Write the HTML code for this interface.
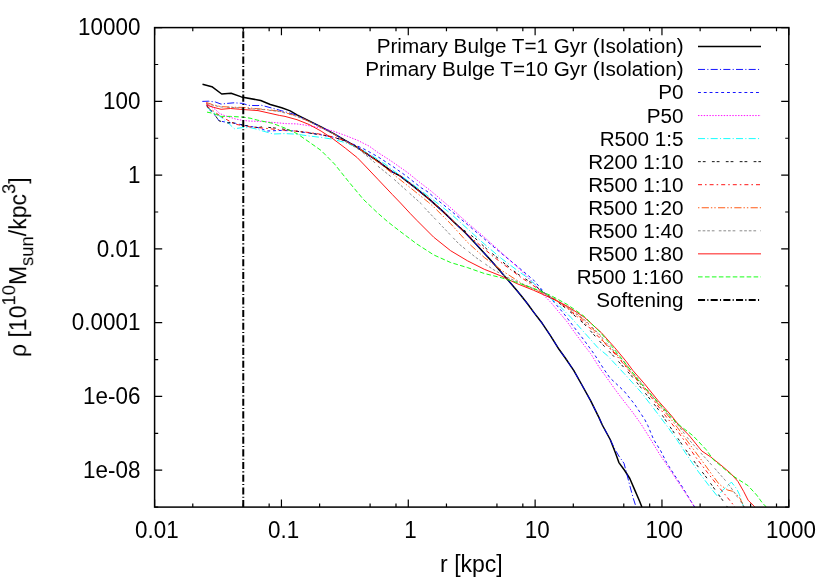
<!DOCTYPE html>
<html><head><meta charset="utf-8"><title>Density profile</title>
<style>html,body{margin:0;padding:0;background:#fff;}svg{display:block;will-change:transform;}</style>
</head><body>
<svg width="830" height="581" viewBox="0 0 830 581">
<rect width="830" height="581" fill="#fff"/>
<defs><clipPath id="cp"><rect x="154.6" y="27.6" width="634.2" height="479.5"/></clipPath></defs>
<path d="M154.60,507.10 v-7.60 M154.60,27.60 v7.60 M192.78,507.10 v-3.60 M192.78,27.60 v3.60 M243.26,507.10 v-3.60 M243.26,27.60 v3.60 M269.15,507.10 v-3.60 M269.15,27.60 v3.60 M281.44,507.10 v-7.60 M281.44,27.60 v7.60 M319.62,507.10 v-3.60 M319.62,27.60 v3.60 M370.10,507.10 v-3.60 M370.10,27.60 v3.60 M395.99,507.10 v-3.60 M395.99,27.60 v3.60 M408.28,507.10 v-7.60 M408.28,27.60 v7.60 M446.46,507.10 v-3.60 M446.46,27.60 v3.60 M496.94,507.10 v-3.60 M496.94,27.60 v3.60 M522.83,507.10 v-3.60 M522.83,27.60 v3.60 M535.12,507.10 v-7.60 M535.12,27.60 v7.60 M573.30,507.10 v-3.60 M573.30,27.60 v3.60 M623.78,507.10 v-3.60 M623.78,27.60 v3.60 M649.67,507.10 v-3.60 M649.67,27.60 v3.60 M661.96,507.10 v-7.60 M661.96,27.60 v7.60 M700.14,507.10 v-3.60 M700.14,27.60 v3.60 M750.62,507.10 v-3.60 M750.62,27.60 v3.60 M776.51,507.10 v-3.60 M776.51,27.60 v3.60 M788.80,507.10 v-7.60 M788.80,27.60 v7.60 M154.60,27.60 h7.60 M788.80,27.60 h-7.60 M154.60,64.48 h3.60 M788.80,64.48 h-3.60 M154.60,101.37 h7.60 M788.80,101.37 h-7.60 M154.60,138.25 h3.60 M788.80,138.25 h-3.60 M154.60,175.14 h7.60 M788.80,175.14 h-7.60 M154.60,212.02 h3.60 M788.80,212.02 h-3.60 M154.60,248.91 h7.60 M788.80,248.91 h-7.60 M154.60,285.79 h3.60 M788.80,285.79 h-3.60 M154.60,322.68 h7.60 M788.80,322.68 h-7.60 M154.60,359.56 h3.60 M788.80,359.56 h-3.60 M154.60,396.45 h7.60 M788.80,396.45 h-7.60 M154.60,433.33 h3.60 M788.80,433.33 h-3.60 M154.60,470.22 h7.60 M788.80,470.22 h-7.60 M154.60,507.10 h3.60 M788.80,507.10 h-3.60" stroke="#000" stroke-width="1.2" fill="none"/>
<g clip-path="url(#cp)" fill="none" stroke-linejoin="round">
<path d="M202.5,84.3 L211.9,86.7 L221.7,94.0 L231.1,93.3 L241.4,96.9 L260.7,100.5 L270.3,104.5 L281.7,107.8 L290.2,110.9 L297.0,114.9 L309.1,120.9 L321.1,126.9 L333.2,133.3 L345.2,140.5 L357.3,147.3 L363.4,151.7 L377.8,161.1 L392.3,171.9 L400.0,175.8 L414.5,187.1 L428.9,198.9 L443.4,211.9 L457.8,225.7 L465.1,232.5 L476.1,244.2 L489.2,258.6 L497.8,268.3 L507.9,279.9 L515.2,288.6 L521.0,295.5 L527.5,303.8 L534.0,312.6 L542.2,323.3 L550.6,335.8 L559.0,349.3 L565.3,358.0 L573.7,370.4 L582.2,385.5 L590.6,400.7 L599.0,417.6 L602.3,425.0 L610.2,439.5 L615.3,452.5 L618.9,462.6 L624.7,470.5 L629.8,478.5 L634.8,490.1 L639.2,500.2 L641.8,506.7 L645.0,514.0" stroke="#000000" stroke-width="1.5"/>
<path d="M202.3,101.4 L208.8,101.2 L215.4,102.0 L221.1,104.1 L226.9,103.4 L234.2,102.8 L242.8,103.4 L248.6,105.4 L258.0,105.6 L260.7,105.1 L272.1,108.1 L281.7,110.8 L295.0,114.6 L309.1,121.4 L321.1,126.9 L333.2,133.3 L345.2,140.5 L357.3,147.3 L363.4,151.7 L377.8,161.1 L392.3,171.9 L400.0,175.8 L414.5,187.1 L428.9,198.9 L443.4,211.9 L457.8,225.7 L465.1,232.5 L476.1,244.2 L489.2,258.6 L497.8,268.3 L507.9,279.9 L515.2,288.6 L521.0,295.5 L527.5,303.8 L534.0,312.6 L542.2,323.3 L550.6,335.8 L559.0,349.3 L565.3,358.0 L573.7,370.4 L582.2,385.5 L590.6,400.7 L599.0,417.6 L602.3,425.0 L610.2,439.5 L615.3,450.0 L618.9,456.1 L624.0,463.3 L626.9,474.2 L629.8,485.7 L633.4,498.7 L635.5,505.2 L637.0,510.0" stroke="#0000ff" stroke-width="0.92" stroke-dasharray="7.05,2.26,1.1,2.26"/>
<path d="M206.7,105.0 L210.3,110.6 L215.4,115.7 L219.0,120.8 L224.0,121.8 L228.4,122.6 L235.6,123.3 L242.8,125.1 L248.6,126.2 L258.0,127.6 L267.3,131.0 L281.7,130.4 L295.0,131.0 L309.1,133.0 L321.1,134.8 L333.2,137.2 L345.2,140.8 L357.3,146.0 L363.4,148.7 L377.8,156.7 L392.3,166.1 L406.7,176.3 L421.2,187.8 L427.0,191.3 L440.0,202.0 L450.6,210.5 L467.5,224.6 L484.3,238.9 L501.2,253.2 L518.1,267.0 L533.7,280.2 L543.9,292.0 L554.0,302.1 L564.1,313.9 L574.2,327.4 L584.3,340.5 L594.0,353.8 L604.1,369.5 L610.0,378.0 L614.2,381.8 L624.3,391.4 L634.5,404.1 L644.6,419.3 L647.8,425.5 L653.6,439.5 L660.8,451.0 L666.6,462.6 L673.9,474.2 L682.5,487.2 L691.2,501.6 L694.0,506.0 L697.0,511.0" stroke="#0000ff" stroke-width="0.92" stroke-dasharray="2.9,2.9"/>
<path d="M207.0,103.9 L212.5,107.7 L215.4,109.5 L219.7,113.5 L224.8,115.7 L230.5,117.5 L235.6,119.0 L242.8,120.4 L250.1,121.1 L260.7,121.4 L279.3,123.0 L286.2,123.6 L297.0,123.9 L309.1,125.7 L321.1,128.1 L333.2,131.1 L345.2,135.4 L357.3,140.2 L369.3,146.2 L377.8,152.4 L392.3,161.8 L406.7,171.9 L421.2,183.5 L430.4,190.5 L450.6,207.7 L467.5,222.9 L484.3,237.2 L501.2,252.4 L518.1,267.6 L534.9,284.4 L542.2,293.7 L550.6,302.1 L559.0,312.2 L567.5,322.3 L575.9,334.2 L584.3,345.5 L590.6,353.5 L599.0,367.0 L607.5,378.8 L615.9,390.6 L624.3,401.6 L632.8,412.5 L641.2,424.3 L650.7,439.5 L659.4,453.9 L668.1,466.9 L676.7,479.9 L685.4,492.9 L693.4,505.2 L697.0,511.0" stroke="#ff00ff" stroke-width="0.92" stroke-dasharray="1.43,1.43"/>
<path d="M206.7,107.0 L212.5,112.1 L218.2,115.0 L225.5,120.8 L229.8,124.4 L234.2,128.7 L242.8,127.6 L250.1,127.6 L258.0,129.4 L260.7,130.4 L273.3,134.0 L285.0,133.6 L297.0,134.2 L309.1,136.0 L321.1,137.4 L333.2,139.3 L345.2,142.6 L357.3,147.4 L369.3,154.0 L385.0,164.0 L392.3,169.8 L406.7,179.9 L421.2,190.7 L440.0,205.2 L450.6,213.6 L467.5,228.8 L484.3,244.0 L501.2,258.3 L518.1,271.0 L528.7,278.5 L543.9,292.8 L557.3,303.8 L570.8,317.3 L584.3,332.5 L597.8,347.6 L607.5,355.7 L624.3,373.7 L641.2,392.3 L658.1,414.2 L666.6,425.5 L676.7,439.5 L688.5,457.5 L698.6,472.0 L709.0,485.7 L717.7,496.6 L722.0,490.8 L727.8,485.7 L731.4,482.1 L736.5,488.6 L739.4,494.4 L742.3,503.1 L743.7,506.7 L745.0,511.0" stroke="#00ffff" stroke-width="0.92" stroke-dasharray="7.05,2.26,1.1,2.26"/>
<path d="M206.7,106.0 L211.0,110.3 L215.4,115.7 L219.0,120.8 L226.9,123.0 L232.0,122.6 L242.8,125.1 L258.0,127.6 L262.5,126.8 L279.3,128.5 L295.0,131.0 L309.1,133.0 L321.1,134.8 L333.2,137.2 L345.2,140.8 L357.3,147.0 L377.8,161.1 L392.3,171.9 L400.0,175.8 L414.5,187.1 L428.9,198.9 L443.4,211.9 L457.8,225.7 L475.9,238.9 L487.7,249.9 L501.2,260.8 L518.1,274.3 L531.6,282.8 L543.9,292.8 L557.0,301.5 L567.5,309.5 L584.3,324.0 L601.6,343.4 L615.9,358.6 L631.1,375.4 L644.6,392.3 L658.1,409.2 L672.9,431.0 L684.5,448.1 L696.0,464.0 L706.1,477.0 L716.3,491.5 L725.7,504.5 L728.0,508.0" stroke="#000000" stroke-width="0.92" stroke-dasharray="2.8,2,2.8,6.3"/>
<path d="M206.7,106.3 L212.5,110.3 L216.8,113.5 L221.9,117.1 L226.9,119.7 L232.0,122.6 L236.3,124.4 L242.8,125.6 L252.8,127.4 L262.5,128.0 L279.3,129.8 L295.0,131.0 L309.1,132.5 L321.1,134.3 L333.2,137.0 L345.2,140.8 L357.3,147.0 L377.8,161.1 L392.3,171.9 L400.0,175.8 L414.5,187.1 L428.9,198.9 L443.4,211.9 L457.8,225.7 L465.1,232.5 L484.3,249.0 L494.5,257.5 L507.9,267.6 L521.4,277.7 L531.6,284.4 L543.9,292.8 L557.0,301.0 L567.5,308.5 L584.3,322.5 L604.1,342.5 L617.6,356.9 L634.5,377.1 L651.3,397.3 L668.2,419.3 L675.8,428.5 L684.5,440.9 L696.0,457.5 L707.6,472.7 L717.7,485.7 L724.9,494.4 L733.6,505.2 L736.0,509.0" stroke="#ff0000" stroke-width="0.92" stroke-dasharray="4,3,1.6,3"/>
<path d="M206.4,102.5 L212.5,104.6 L220.9,106.6 L234.8,107.3 L242.8,107.4 L260.7,109.0 L279.3,111.1 L295.0,115.4 L297.0,115.8 L309.1,121.5 L321.1,127.5 L333.2,133.8 L345.2,141.0 L357.3,147.8 L370.0,156.0 L385.0,167.6 L399.5,179.2 L414.0,190.7 L428.4,202.3 L433.7,206.9 L450.6,223.7 L467.5,242.3 L484.3,257.5 L501.2,270.1 L518.1,281.1 L524.8,285.5 L543.9,293.5 L557.0,300.5 L567.5,307.5 L584.3,320.5 L601.2,337.5 L603.0,341.0 L618.0,356.0 L632.0,373.5 L645.0,388.0 L658.1,404.0 L671.6,420.0 L677.2,427.2 L688.0,442.0 L701.8,460.5 L711.9,474.5 L719.2,484.3 L727.8,490.1 L733.6,491.5 L739.4,497.3 L743.7,506.0 L745.0,510.0" stroke="#ff4c00" stroke-width="0.92" stroke-dasharray="7.2,2,1.4,2,1.4,2.3"/>
<path d="M206.7,103.8 L212.5,105.2 L221.1,107.0 L234.8,107.6 L260.7,109.3 L279.3,111.5 L295.0,115.8 L309.1,121.5 L321.1,127.5 L333.2,133.8 L345.2,141.0 L357.3,148.5 L363.3,153.0 L374.2,162.0 L377.8,166.1 L392.3,177.7 L406.7,190.7 L421.2,203.7 L425.3,208.6 L442.2,226.3 L459.0,244.0 L475.9,257.5 L492.8,269.3 L507.9,277.7 L525.0,285.0 L543.9,293.2 L557.0,300.0 L567.5,307.0 L584.3,319.5 L601.2,336.0 L604.5,341.0 L619.0,356.0 L632.8,372.5 L645.0,387.0 L658.1,403.0 L671.6,418.5 L678.7,426.0 L688.8,439.5 L700.4,452.5 L713.4,466.9 L724.9,479.9 L730.7,487.2 L736.5,495.8 L740.8,501.6 L744.0,507.0 L746.0,510.0" stroke="#808080" stroke-width="0.92" stroke-dasharray="2.7,1.9,2.7,1.9,2.7,1.9,2.7,4.3"/>
<path d="M206.7,102.7 L207.0,105.2 L213.9,107.4 L221.1,109.3 L230.5,108.5 L242.8,109.5 L258.0,110.6 L279.3,115.4 L285.0,116.4 L297.0,119.7 L309.1,124.5 L321.1,131.1 L333.2,139.0 L345.2,148.0 L357.3,157.7 L363.4,164.0 L377.8,179.2 L392.3,194.5 L400.5,203.0 L410.4,213.7 L416.9,220.4 L433.7,237.2 L450.6,250.7 L467.5,260.8 L484.3,269.3 L501.2,276.0 L516.9,283.6 L533.7,290.3 L550.6,297.9 L567.5,306.3 L584.3,317.3 L601.2,332.5 L614.7,347.6 L626.5,361.8 L632.8,370.4 L644.6,383.9 L658.1,400.7 L671.6,415.9 L678.7,425.0 L688.8,435.1 L701.8,451.0 L710.5,456.8 L720.6,464.8 L730.7,473.4 L737.9,481.4 L743.7,491.5 L748.1,500.2 L754.6,506.7 L758.0,511.0" stroke="#ff0000" stroke-width="0.92"/>
<path d="M207.0,112.1 L212.5,113.2 L221.1,116.4 L230.5,116.4 L242.8,117.1 L250.1,118.2 L257.7,120.2 L272.1,123.2 L285.0,128.1 L297.0,133.6 L309.1,142.0 L321.1,150.5 L334.5,164.0 L348.9,182.0 L363.4,199.4 L377.8,213.1 L388.0,222.0 L400.0,231.3 L416.9,244.0 L433.7,254.9 L450.6,262.5 L467.5,267.6 L484.3,273.5 L501.2,277.7 L516.9,282.5 L533.7,288.4 L550.6,295.4 L567.5,304.6 L584.3,316.4 L601.2,333.3 L612.0,346.5 L624.3,361.9 L641.2,383.9 L658.1,402.4 L674.9,421.0 L680.1,425.7 L693.1,435.8 L706.1,449.6 L713.4,459.7 L722.0,466.9 L730.7,474.2 L737.9,479.2 L748.1,485.7 L756.7,495.1 L762.5,503.1 L765.4,506.0 L769.0,511.0" stroke="#00ff00" stroke-width="0.92" stroke-dasharray="4.6,2.35"/>
</g>
<path d="M243.26,507.10 V27.60" stroke="#000000" stroke-width="2.0" stroke-dasharray="7.05,2.26,1.1,2.26" fill="none"/>
<rect x="154.60" y="27.60" width="634.20" height="479.50" fill="none" stroke="#000" stroke-width="1.50"/>
<g opacity="0.999" font-family="'Liberation Sans', sans-serif" font-size="20.68" fill="#000" text-anchor="end">
<text x="683.6" y="53.3">Primary Bulge T=1 Gyr (Isolation)</text>
<text x="683.6" y="76.4">Primary Bulge T=10 Gyr (Isolation)</text>
<text x="683.6" y="99.4">P0</text>
<text x="683.6" y="122.5">P50</text>
<text x="683.6" y="145.5">R500 1:5</text>
<text x="683.6" y="168.6">R200 1:10</text>
<text x="683.6" y="191.6">R500 1:10</text>
<text x="683.6" y="214.7">R500 1:20</text>
<text x="683.6" y="237.7">R500 1:40</text>
<text x="683.6" y="260.8">R500 1:80</text>
<text x="683.6" y="283.8">R500 1:160</text>
<text x="683.6" y="306.8">Softening</text>
</g>
<g fill="none">
<path d="M698.0,46.40 H761.0" stroke="#000000" stroke-width="1.5"/>
<path d="M698.0,69.45 H761.0" stroke="#0000ff" stroke-width="0.92" stroke-dasharray="7.05,2.26,1.1,2.26"/>
<path d="M698.0,92.50 H761.0" stroke="#0000ff" stroke-width="0.92" stroke-dasharray="2.9,2.9"/>
<path d="M698.0,115.55 H761.0" stroke="#ff00ff" stroke-width="0.92" stroke-dasharray="1.43,1.43"/>
<path d="M698.0,138.60 H761.0" stroke="#00ffff" stroke-width="0.92" stroke-dasharray="7.05,2.26,1.1,2.26"/>
<path d="M698.0,161.65 H761.0" stroke="#000000" stroke-width="0.92" stroke-dasharray="2.8,2,2.8,6.3"/>
<path d="M698.0,184.70 H761.0" stroke="#ff0000" stroke-width="0.92" stroke-dasharray="4,3,1.6,3"/>
<path d="M698.0,207.75 H761.0" stroke="#ff4c00" stroke-width="0.92" stroke-dasharray="7.2,2,1.4,2,1.4,2.3" stroke-dashoffset="12.6"/>
<path d="M698.0,230.80 H761.0" stroke="#808080" stroke-width="0.92" stroke-dasharray="2.7,1.9,2.7,1.9,2.7,1.9,2.7,4.3"/>
<path d="M698.0,253.85 H761.0" stroke="#ff0000" stroke-width="0.92"/>
<path d="M698.0,276.90 H761.0" stroke="#00ff00" stroke-width="0.92" stroke-dasharray="4.6,2.35"/>
<path d="M698.0,299.95 H761.0" stroke="#000000" stroke-width="2.0" stroke-dasharray="7.05,2.26,1.1,2.26"/>
</g>
<g opacity="0.999" font-family="'Liberation Sans', sans-serif" font-size="23.00" fill="#000">
<text transform="translate(140.40,35.00) scale(0.975,1)" text-anchor="end">10000</text>
<text transform="translate(140.40,109.27) scale(0.975,1)" text-anchor="end">100</text>
<text transform="translate(140.40,183.04) scale(0.975,1)" text-anchor="end">1</text>
<text transform="translate(140.40,256.81) scale(0.975,1)" text-anchor="end">0.01</text>
<text transform="translate(140.40,330.08) scale(0.975,1)" text-anchor="end">0.0001</text>
<text transform="translate(140.40,404.35) scale(0.975,1)" text-anchor="end">1e-06</text>
<text transform="translate(140.40,478.12) scale(0.975,1)" text-anchor="end">1e-08</text>
<text transform="translate(156.80,537.60) scale(0.975,1)" text-anchor="middle">0.01</text>
<text transform="translate(283.64,537.60) scale(0.975,1)" text-anchor="middle">0.1</text>
<text transform="translate(410.48,537.60) scale(0.975,1)" text-anchor="middle">1</text>
<text transform="translate(537.32,537.60) scale(0.975,1)" text-anchor="middle">10</text>
<text transform="translate(664.16,537.60) scale(0.975,1)" text-anchor="middle">100</text>
<text transform="translate(791.00,537.60) scale(0.975,1)" text-anchor="middle">1000</text>
<text transform="translate(471.40,572.00) scale(1.000,1)" text-anchor="middle">r [kpc]</text>
<text transform="translate(26.2,357.0) rotate(-90) scale(1.000,1)" text-anchor="start">ρ [10<tspan font-size="18.40" dy="-11.1">10</tspan><tspan dy="11.1">M</tspan><tspan font-size="18.40" dy="6.9">sun</tspan><tspan dy="-6.9">/kpc</tspan><tspan font-size="18.40" dy="-11.1">3</tspan><tspan dy="11.1">]</tspan></text>
</g>
</svg>
</body></html>
